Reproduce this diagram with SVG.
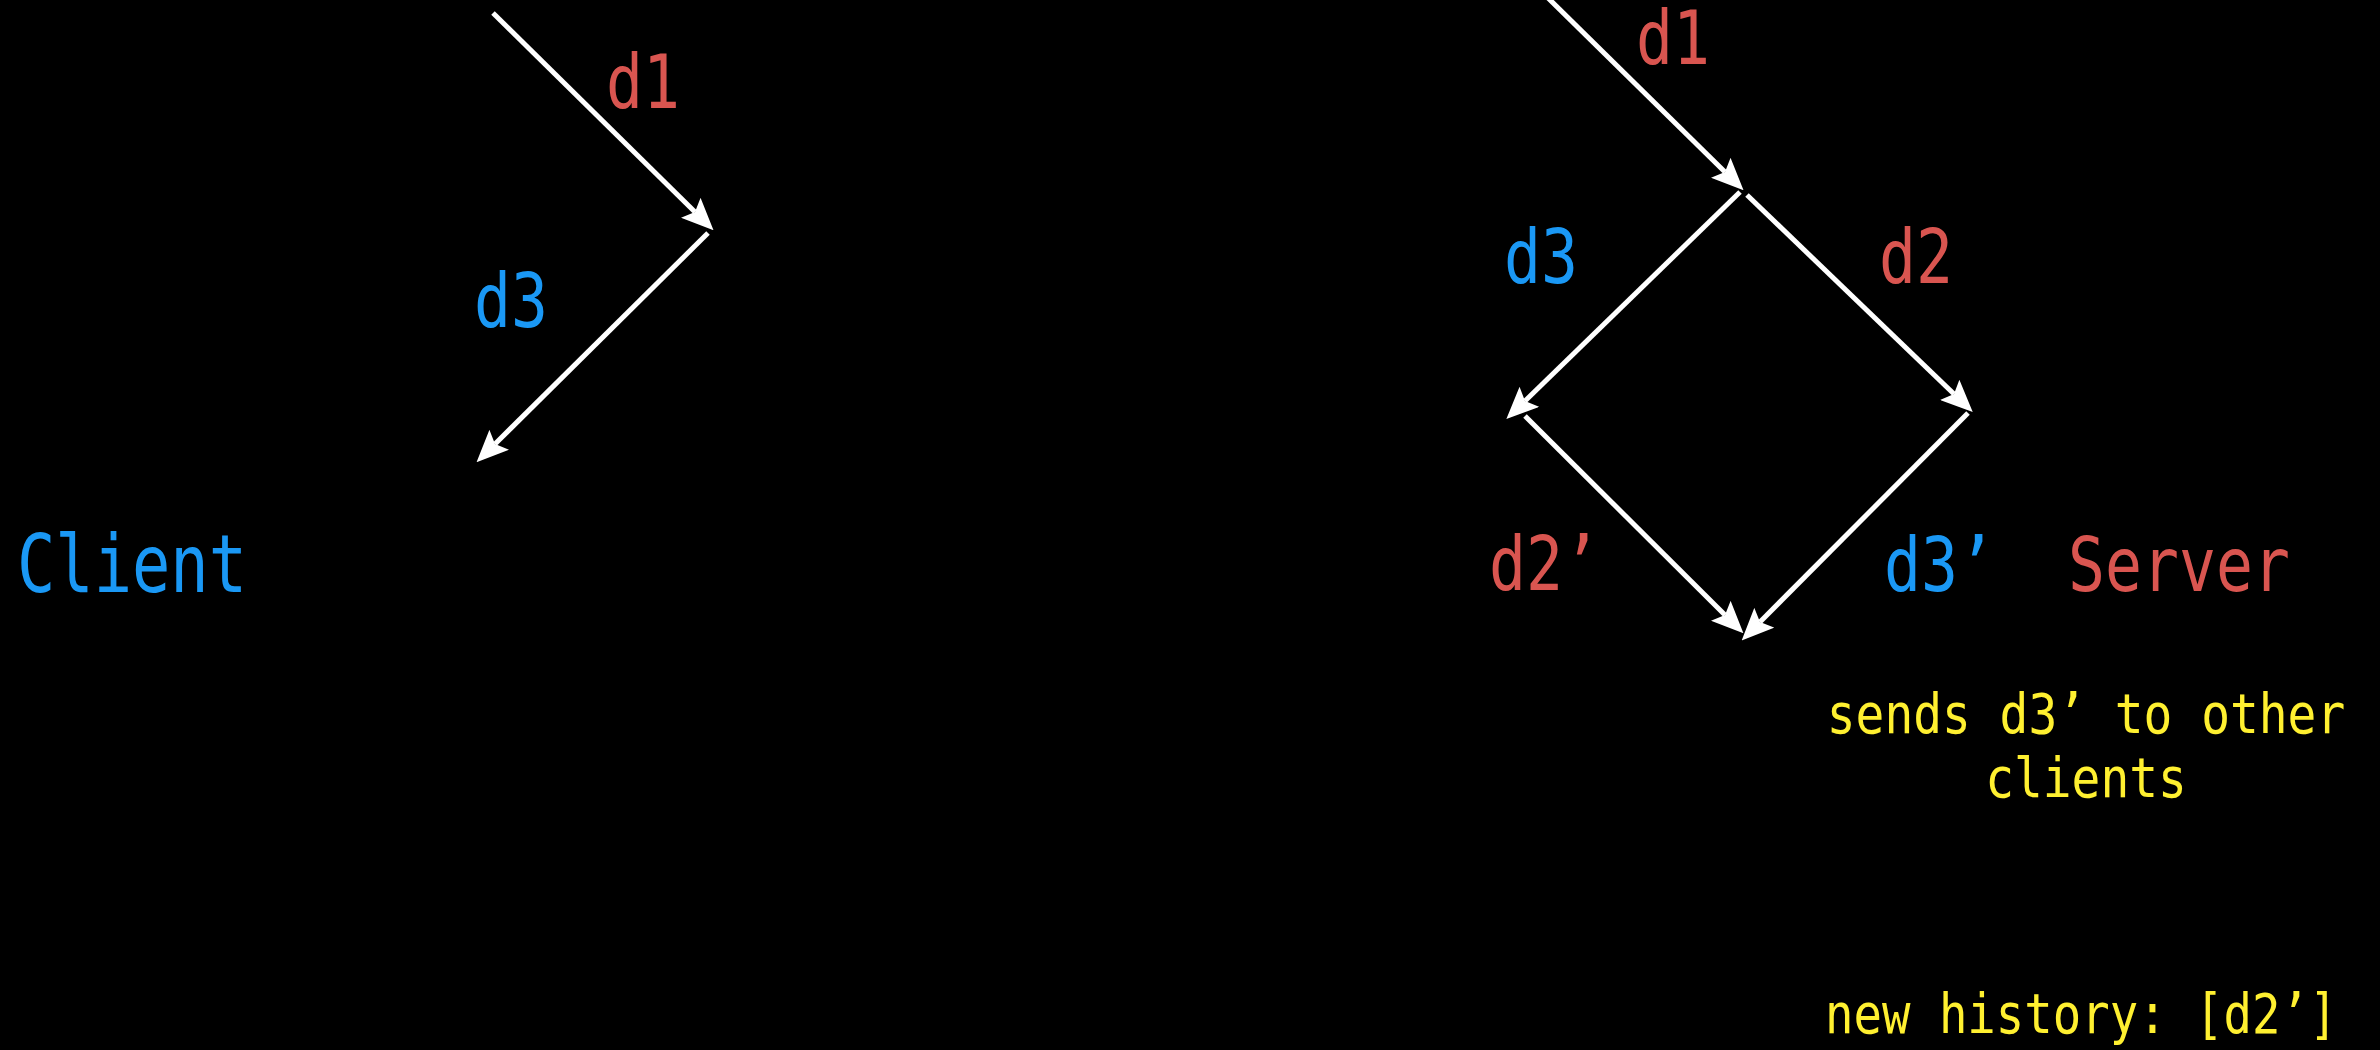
<svg xmlns="http://www.w3.org/2000/svg" width="2380" height="1050" viewBox="0 0 2380 1050">
  <style>
    .lbl { font-family: "DejaVu Sans Mono", "Liberation Mono", monospace; font-size: 74px; }
    .big { font-family: "DejaVu Sans Mono", "Liberation Mono", monospace; font-size: 80px; }
    .note { font-family: "DejaVu Sans Mono", "Liberation Mono", monospace; font-size: 55px; fill: #fff030; }
    .red { fill: #d95550; }
    .blue { fill: #1a98f5; }
    .edge { stroke: #ffffff; stroke-width: 5; fill: none; marker-end: url(#arrow); }
  </style>
  <defs>
    <marker id="arrow" viewBox="0 0 32 28" refX="6" refY="14" markerWidth="32" markerHeight="28" markerUnits="userSpaceOnUse" orient="auto">
      <path d="M0,0 L32,14 L0,28 L6,14 z" fill="#ffffff"/>
    </marker>
  </defs>
  <rect x="0" y="0" width="2380" height="1050" fill="#000000"/>

  <g id="connectors">
    <path class="edge" d="M493,13 L695,212"/>
    <path class="edge" d="M708,233 L495,444"/>
    <path class="edge" d="M1545,-5 L1725,172"/>
    <path class="edge" d="M1740,192 L1525,401"/>
    <path class="edge" d="M1747,195 L1954,394"/>
    <path class="edge" d="M1525,416 L1725,615"/>
    <path class="edge" d="M1968,413 L1760,622"/>
  </g>

  <g id="client">
    <text class="big blue" x="17" y="592" textLength="230" lengthAdjust="spacingAndGlyphs">Client</text>
  </g>
  <g id="client-labels">
    <text class="lbl red" x="606" y="108" textLength="74" lengthAdjust="spacingAndGlyphs">d1</text>
    <text class="lbl blue" x="474" y="327" textLength="74" lengthAdjust="spacingAndGlyphs">d3</text>
  </g>

  <g id="server">
    <text class="lbl red" x="2068" y="591" textLength="222" lengthAdjust="spacingAndGlyphs">Server</text>
  </g>
  <g id="server-labels">
    <text class="lbl red" x="1636" y="64" textLength="74" lengthAdjust="spacingAndGlyphs">d1</text>
    <text class="lbl blue" x="1504" y="283" textLength="74" lengthAdjust="spacingAndGlyphs">d3</text>
    <text class="lbl red" x="1879" y="283" textLength="74" lengthAdjust="spacingAndGlyphs">d2</text>
    <text class="lbl red" x="1489" y="590" textLength="111" lengthAdjust="spacingAndGlyphs">d2’</text>
    <text class="lbl blue" x="1884" y="591" textLength="111" lengthAdjust="spacingAndGlyphs">d3’</text>
  </g>

  <g id="notes">
    <text class="note" transform="translate(2086,733) scale(0.87,1)" text-anchor="middle">sends d3’ to other</text>
    <text class="note" transform="translate(2086,797) scale(0.87,1)" text-anchor="middle">clients</text>
    <text class="note" transform="translate(1825,1033) scale(0.86,1)">new history: [d2’]</text>
  </g>
</svg>
